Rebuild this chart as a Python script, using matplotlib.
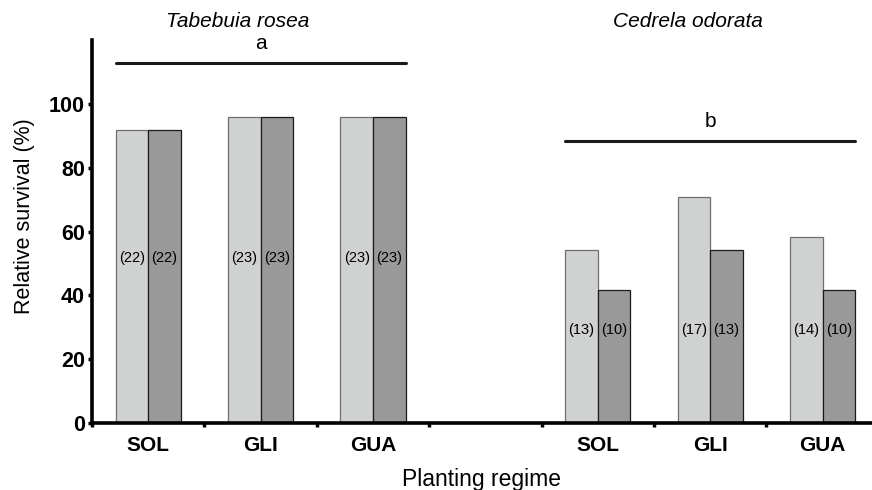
import numpy as np
import matplotlib.pyplot as plt

plt.rcParams['font.family'] = ['Liberation Sans', 'DejaVu Sans']

# data
species = ['Tabebuia rosea', 'Cedrela odorata']
regimes = ['SOL', 'GLI', 'GUA']
light_vals = [91.7, 95.8, 95.8, 54.2, 70.8, 58.3]
dark_vals = [91.7, 95.8, 95.8, 41.7, 54.2, 41.7]
light_n = ['(22)', '(23)', '(23)', '(13)', '(17)', '(14)']
dark_n = ['(22)', '(23)', '(23)', '(10)', '(13)', '(10)']
groups = ['a', 'b']
group_y = [113, 88.5]

# slots along x: three regimes, an empty gap, three regimes
slots = np.array([0.5, 1.5, 2.5, 4.5, 5.5, 6.5])
w = 0.29

fig = plt.figure(figsize=(8.72, 4.9), dpi=100)
ax = fig.add_axes([0.1055, 0.1367, 0.8945, 0.7813])

ax.bar(slots - w / 2, light_vals, w, color='#d0d2d1', edgecolor='#6f6f6f', linewidth=0.9)
ax.bar(slots + w / 2, dark_vals, w, color='#999999', edgecolor='#1a1a1a', linewidth=0.9)

for i, x in enumerate(slots):
    ty = 51.7 if i < 3 else 29.3
    ax.text(x - w / 2, ty, light_n[i], ha='center', va='center', fontsize=10.5)
    ax.text(x + w / 2, ty, dark_n[i], ha='center', va='center', fontsize=10.5)

# significance lines
for g, (lo, hi), gy in zip(groups, [(0, 3), (3, 6)], group_y):
    x0 = slots[lo] - w
    x1 = slots[hi - 1] + w
    ax.plot([x0, x1], [gy, gy], color='#1a1a1a', lw=2.2, solid_capstyle='round', clip_on=False)
    ax.text((x0 + x1) / 2, gy + 6.0, g, ha='center', va='center', fontsize=15)

# species titles
for s, c in zip(species, [slots[1], slots[4]]):
    ax.text(c - 0.2, 125.8, s, ha='center', va='center', fontsize=15, style='italic')

ax.set_xlim(0, 6.94)
ax.set_ylim(0, 120)
ax.set_yticks([0, 20, 40, 60, 80, 100])
ax.set_xticks(np.arange(0, 7))
ax.set_xticklabels([])
ax.set_xticks(slots, minor=True)
ax.set_xticklabels(regimes * 2, minor=True, fontsize=15, fontweight='bold')
ax.tick_params(axis='x', which='minor', length=0, pad=9)
ax.tick_params(axis='x', which='major', direction='out', length=3, width=2.5)
ax.tick_params(axis='y', direction='out', length=3, width=2.5, labelsize=15.5, pad=2)
for lbl in ax.get_yticklabels():
    lbl.set_fontweight('bold')

for side in ['top', 'right']:
    ax.spines[side].set_visible(False)
ax.spines['left'].set_linewidth(2.6)
ax.spines['bottom'].set_linewidth(2.6)

ax.set_ylabel('Relative survival (%)', fontsize=15.5, labelpad=10)
ax.yaxis.label.set_y(0.54)
ax.set_xlabel('Planting regime', fontsize=16.5, labelpad=10)

fig.savefig('out.png', dpi=100)
